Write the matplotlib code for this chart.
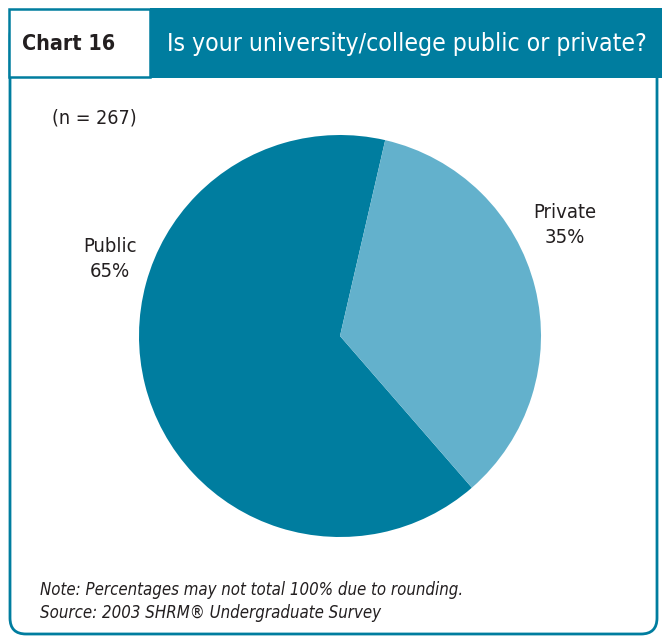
import matplotlib.pyplot as plt
from matplotlib.patches import Rectangle, FancyBboxPatch

# survey answers
categories = ["Public", "Private"]
shares = [65, 35]
sample_n = 267

TEAL = "#007d9f"
LIGHT = "#63b1cc"
INK = "#231f20"

plt.rcParams["font.family"] = ["DejaVu Sans"]
plt.rcParams["font.stretch"] = "condensed"

W, H = 662, 636
fig = plt.figure(figsize=(W / 100, H / 100), dpi=100)
renderer = fig.canvas.get_renderer()

# frame layer in pixel coords (y down)
bg = fig.add_axes([0, 0, 1, 1])
bg.set_xlim(0, W)
bg.set_ylim(H, 0)
bg.axis("off")


def fit_text(x, y, s, width, size, **kw):
    # shrink the font until the string spans `width` pixels
    t = bg.text(x, y, s, fontsize=size, **kw)
    w = t.get_window_extent(renderer).width
    t.set_fontsize(size * width / w)
    return t


frame = FancyBboxPatch((10, 20), 647, 614, boxstyle="round,pad=0,rounding_size=16",
                       fill=False, edgecolor=TEAL, linewidth=2)
bg.add_patch(frame)

# header: title bar and the chart number box
bg.add_patch(Rectangle((150, 8), W - 150, 70, facecolor=TEAL, edgecolor="none"))
bg.add_patch(Rectangle((9, 9), 141, 68, facecolor="white", edgecolor=TEAL, linewidth=1.8))
fit_text(22, 44, "Chart 16", 93, 19, color=INK, va="center", ha="left",
         fontweight="semibold")
fit_text(167, 44, "Is your university/college public or private?", 478, 19,
         color="white", va="center", ha="left")

fit_text(52, 118, f"(n = {sample_n})", 85, 14, color=INK, va="center", ha="left")

# pie centred at (340, 336), radius 201 px
cx, cy, r = 340, 336, 201
pie_ax = fig.add_axes([(cx - r) / W, (H - cy - r) / H, 2 * r / W, 2 * r / H])
pie_ax.pie(shares, colors=[TEAL, LIGHT], startangle=77, counterclock=True,
           wedgeprops=dict(linewidth=0), radius=1)
pie_ax.set_xlim(-1, 1)
pie_ax.set_ylim(-1, 1)
pie_ax.set_aspect("equal")

# slice labels share one size, taken from the "Public" word width
probe = fit_text(0, 0, categories[0], 54, 14)
label_size = probe.get_fontsize()
probe.remove()

label_pos = {"Public": (110, 259), "Private": (565, 225)}
for name, val in zip(categories, shares):
    x, y = label_pos[name]
    bg.text(x, y, f"{name}\n{val}%", color=INK, fontsize=label_size, ha="center",
            va="center", linespacing=1.35)

note = fit_text(40, 590, "Note: Percentages may not total 100% due to rounding.", 423, 12,
                color=INK, style="italic", va="center", ha="left")
bg.text(40, 613, "Source: 2003 SHRM\u00ae Undergraduate Survey", color=INK,
        fontsize=note.get_fontsize(), style="italic", va="center", ha="left")

fig.savefig("out.png", dpi=100)
